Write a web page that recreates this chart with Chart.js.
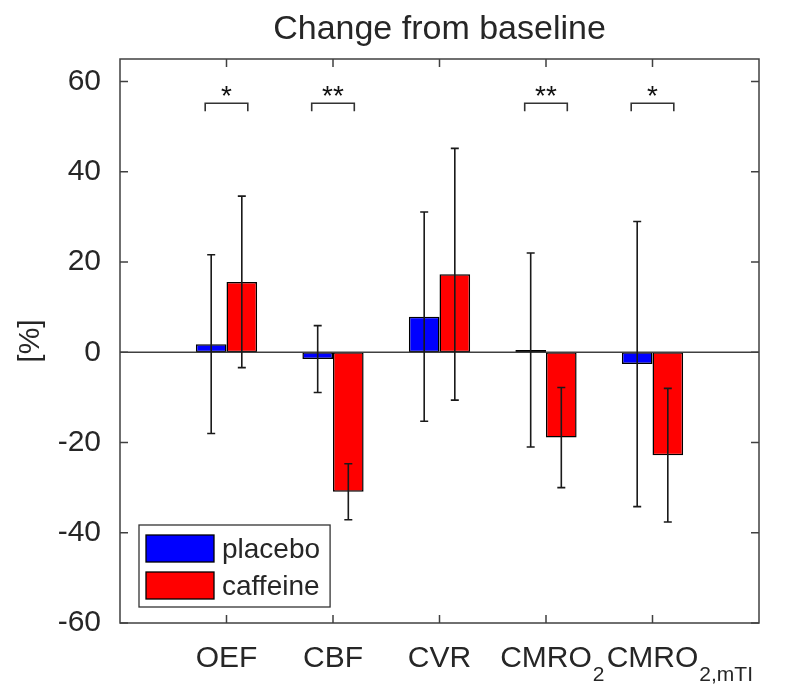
<!DOCTYPE html>
<html>
<head>
<meta charset="utf-8">
<script src="https://cdn.jsdelivr.net/npm/chart.js@4.4.0/dist/chart.umd.min.js"></script>
<style>
    body { margin: 0; background: #fff; }
    #wrap { width: 800px; height: 700px; }
</style>
</head>
<body>
<div id="wrap"><canvas id="chart" width="800" height="700"></canvas></div>
<script>
// Categories (main text + subscript part)
const categoryNames = ['OEF', 'CBF', 'CVR', 'CMRO', 'CMRO'];
const categorySubs = ['', '', '', '2', '2,mTI'];

// Mean change from baseline [%] and error bar half-lengths
const placeboMean = [1.8, -1.5, 7.9, 0.5, -2.6];
const placeboErr = [19.8, 7.4, 23.2, 21.5, 31.6];
const caffeineMean = [15.6, -30.9, 17.3, -18.9, -22.8];
const caffeineErr = [19.0, 6.2, 27.9, 11.1, 14.8];

// Significance marks per category
const sigMarks = ['*', '**', '', '**', '*'];

const yTicks = [-60, -40, -20, 0, 20, 40, 60];

const FONT = '"Liberation Sans", Arial, Helvetica, sans-serif';
const textColor = '#262626';
const axisColor = '#404040';

// empty slots at both ends so the x range runs 0..6 like the original axes
const labels = [''].concat(categoryNames.map((n, i) => n + categorySubs[i]), ['']);
const pad = arr => [null].concat(arr, [null]);

const overlay = {
    id: 'matlabOverlay',
    afterDatasetsDraw(chart) {
        const ctx = chart.ctx;
        const area = chart.chartArea;
        const xs = chart.scales.x, ys = chart.scales.y;
        const step = xs.getPixelForValue(2) - xs.getPixelForValue(1);
        ctx.save();

        // zero baseline
        ctx.strokeStyle = axisColor;
        ctx.lineWidth = 1.5;
        const y0 = ys.getPixelForValue(0);
        ctx.beginPath();
        ctx.moveTo(area.left, y0);
        ctx.lineTo(area.right, y0);
        ctx.stroke();

        // error bars
        ctx.strokeStyle = '#1a1a1a';
        ctx.lineWidth = 1.6;
        chart.data.datasets.forEach((ds, di) => {
            chart.getDatasetMeta(di).data.forEach((bar, i) => {
                const v = ds.data[i];
                if (v == null) return;
                const e = ds.errors[i];
                const top = ys.getPixelForValue(v + e), bot = ys.getPixelForValue(v - e);
                ctx.beginPath();
                ctx.moveTo(bar.x, top); ctx.lineTo(bar.x, bot);
                ctx.moveTo(bar.x - 4, top); ctx.lineTo(bar.x + 4, top);
                ctx.moveTo(bar.x - 4, bot); ctx.lineTo(bar.x + 4, bot);
                ctx.stroke();
            });
        });

        // significance brackets
        ctx.strokeStyle = '#333';
        ctx.lineWidth = 1.6;
        ctx.fillStyle = '#111';
        ctx.font = '28px ' + FONT;
        ctx.textAlign = 'center';
        ctx.textBaseline = 'alphabetic';
        sigMarks.forEach((m, i) => {
            if (!m) return;
            const cx = xs.getPixelForValue(i + 1);
            const yTop = ys.getPixelForValue(55.2), yLeg = ys.getPixelForValue(53.4);
            ctx.beginPath();
            ctx.moveTo(cx - 0.2 * step, yLeg);
            ctx.lineTo(cx - 0.2 * step, yTop);
            ctx.lineTo(cx + 0.2 * step, yTop);
            ctx.lineTo(cx + 0.2 * step, yLeg);
            ctx.stroke();
            const mt = ctx.measureText(m);
            const yc = ys.getPixelForValue(58);
            ctx.fillText(m, cx, yc + (mt.actualBoundingBoxAscent - mt.actualBoundingBoxDescent) / 2);
        });

        // axes box with inward ticks
        ctx.strokeStyle = axisColor;
        ctx.lineWidth = 1.5;
        ctx.strokeRect(area.left, area.top, area.right - area.left, area.bottom - area.top);
        ctx.beginPath();
        yTicks.forEach(v => {
            const py = ys.getPixelForValue(v);
            ctx.moveTo(area.left, py); ctx.lineTo(area.left + 8, py);
            ctx.moveTo(area.right, py); ctx.lineTo(area.right - 8, py);
        });
        categoryNames.forEach((n, i) => {
            const px = xs.getPixelForValue(i + 1);
            ctx.moveTo(px, area.bottom); ctx.lineTo(px, area.bottom - 8);
            ctx.moveTo(px, area.top); ctx.lineTo(px, area.top + 8);
        });
        ctx.stroke();

        // x tick labels with subscripts
        ctx.fillStyle = textColor;
        ctx.textAlign = 'left';
        categoryNames.forEach((n, i) => {
            const px = xs.getPixelForValue(i + 1);
            ctx.font = '30px ' + FONT;
            const mw = ctx.measureText(n).width;
            const sx = px - mw / 2;
            ctx.fillText(n, sx, area.bottom + 44);
            if (categorySubs[i]) {
                ctx.font = '21px ' + FONT;
                ctx.fillText(categorySubs[i], sx + mw + 1, area.bottom + 58);
            }
        });

        // legend, lower left inside the axes
        ctx.font = '28px ' + FONT;
        const names = chart.data.datasets.map(d => d.label);
        const tw = Math.max(...names.map(l => ctx.measureText(l).width));
        const lw = 7 + 68 + 8 + tw + 10, lh = 82;
        const lx = area.left + 19, ly = area.bottom - 16 - lh;
        ctx.fillStyle = '#fff';
        ctx.fillRect(lx, ly, lw, lh);
        ctx.strokeStyle = '#333';
        ctx.lineWidth = 1.3;
        ctx.strokeRect(lx, ly, lw, lh);
        ctx.textBaseline = 'middle';
        chart.data.datasets.forEach((ds, di) => {
            const ry = ly + 10 + di * 37;
            ctx.fillStyle = ds.backgroundColor;
            ctx.fillRect(lx + 7, ry, 68, 27);
            ctx.strokeStyle = '#000';
            ctx.lineWidth = 1.3;
            ctx.strokeRect(lx + 7, ry, 68, 27);
            ctx.fillStyle = textColor;
            ctx.fillText(ds.label, lx + 7 + 68 + 8, ry + 15);
        });

        ctx.restore();
    }
};

new Chart(document.getElementById('chart').getContext('2d'), {
    type: 'bar',
    data: {
        labels: labels,
        datasets: [{
            label: 'placebo',
            data: pad(placeboMean),
            errors: pad(placeboErr),
            backgroundColor: '#0000ff',
            borderColor: '#000',
            borderWidth: 1.5,
            borderSkipped: false
        }, {
            label: 'caffeine',
            data: pad(caffeineMean),
            errors: pad(caffeineErr),
            backgroundColor: '#ff0000',
            borderColor: '#000',
            borderWidth: 1.5,
            borderSkipped: false
        }]
    },
    options: {
        responsive: false,
        animation: false,
        categoryPercentage: 0.575,
        barPercentage: 1.0,
        layout: { padding: { left: 0, right: 41, top: 0, bottom: 0 } },
        plugins: {
            legend: { display: false },
            tooltip: { enabled: false },
            title: {
                display: true,
                text: 'Change from baseline',
                fullSize: false,
                color: textColor,
                font: { size: 34, family: FONT, weight: 'normal' },
                padding: { top: 9, bottom: 9.2 }
            }
        },
        scales: {
            x: {
                offset: false,
                afterFit: s => { s.height = 77; },
                grid: { display: false, drawTicks: false },
                border: { display: false },
                ticks: { display: false }
            },
            y: {
                min: -60,
                max: 65,
                afterBuildTicks: s => { s.ticks = yTicks.map(v => ({ value: v })); },
                afterFit: s => { s.width = 120; },
                grid: { display: false, drawTicks: false },
                border: { display: false },
                ticks: { font: { size: 30, family: FONT }, color: textColor, padding: 19 },
                title: {
                    display: true,
                    text: '[%]',
                    color: textColor,
                    font: { size: 30, family: FONT },
                    padding: { top: 13, bottom: 0 }
                }
            }
        }
    },
    plugins: [overlay]
});
</script>
</body>
</html>
